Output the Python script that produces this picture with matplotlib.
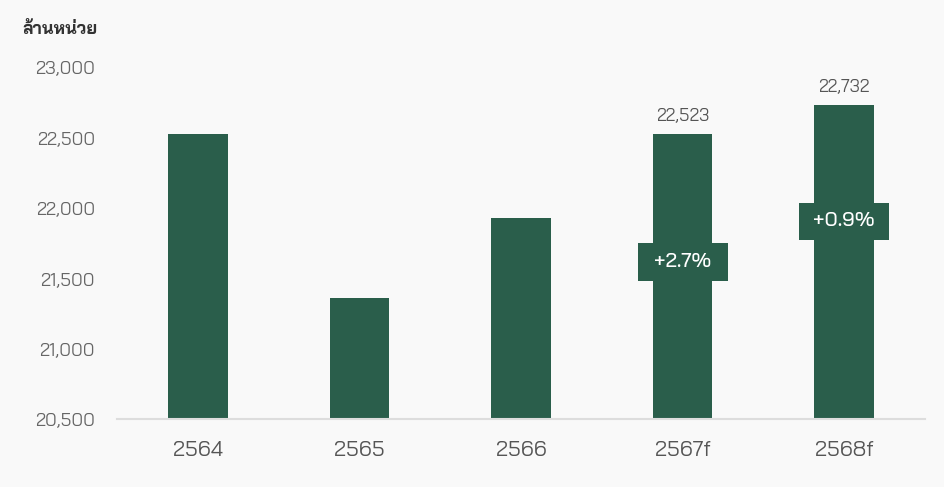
import matplotlib
matplotlib.use('Agg')
import matplotlib.pyplot as plt
from matplotlib.ticker import FuncFormatter, FixedLocator
from matplotlib.patches import Rectangle

categories = ["2564", "2565", "2566", "2567f", "2568f"]
values = [22523, 21360, 21931, 22523, 22732]
value_labels = [None, None, None, "22,523", "22,732"]
growth_labels = [None, None, None, "+2.7%", "+0.9%"]
growth_pos = [None, None, None, 21615, 21906]
yticks = [20500, 21000, 21500, 22000, 22500, 23000]
unit_label = "ล้านหน่วย"

FONT = ["Bai Jamjuree", "DejaVu Sans"]
plt.rcParams['font.family'] = FONT

bg = "#f9f9f9"
bar_color = "#2a5e4b"

fig = plt.figure(figsize=(9.45, 4.87), dpi=100, facecolor=bg)
ax = fig.add_axes([117/945, 1-419/487, 808/945, 352/487], facecolor=bg)

x = list(range(len(categories)))
ax.bar(x, [v - 20500 for v in values], bottom=20500, width=0.37, color=bar_color, zorder=2)

ax.set_xlim(-0.5, len(categories) - 0.5)
ax.set_ylim(20500, 23000)
ax.yaxis.set_major_locator(FixedLocator(yticks))
ax.yaxis.set_major_formatter(FuncFormatter(lambda v, p: f"{int(v):,}"))
ax.set_xticks(x)
ax.set_xticklabels(categories)

for s in ["top", "right", "left"]:
    ax.spines[s].set_visible(False)
ax.spines["bottom"].set_color("#dddddd")
ax.spines["bottom"].set_linewidth(1.5)
ax.tick_params(axis='y', length=0, pad=16, labelsize=13, labelcolor="#666666")
ax.tick_params(axis='x', length=0, pad=16, labelsize=15.5, labelcolor="#555555")

for i, (v, lab) in enumerate(zip(values, value_labels)):
    if lab:
        ax.text(i, v + 70, lab, ha='center', va='bottom', fontsize=12.5, color="#555555")

# box size in axes-data units: ~90 px wide, ~37 px tall
box_w = 0.557
box_h = 263
for i, (g, gp) in enumerate(zip(growth_labels, growth_pos)):
    if g:
        ax.add_patch(Rectangle((i - box_w / 2, gp - box_h / 2), box_w, box_h,
                               facecolor=bar_color, edgecolor='none', zorder=3))
        ax.text(i, gp, g, ha='center', va='center', fontsize=14.5, color="white",
                fontweight='medium', zorder=4)

fig.text(22/945, 1-30/487, unit_label, ha='left', va='center', fontsize=12.5,
         fontweight='bold', color="#333333")

fig.savefig('out.png', facecolor=bg)
